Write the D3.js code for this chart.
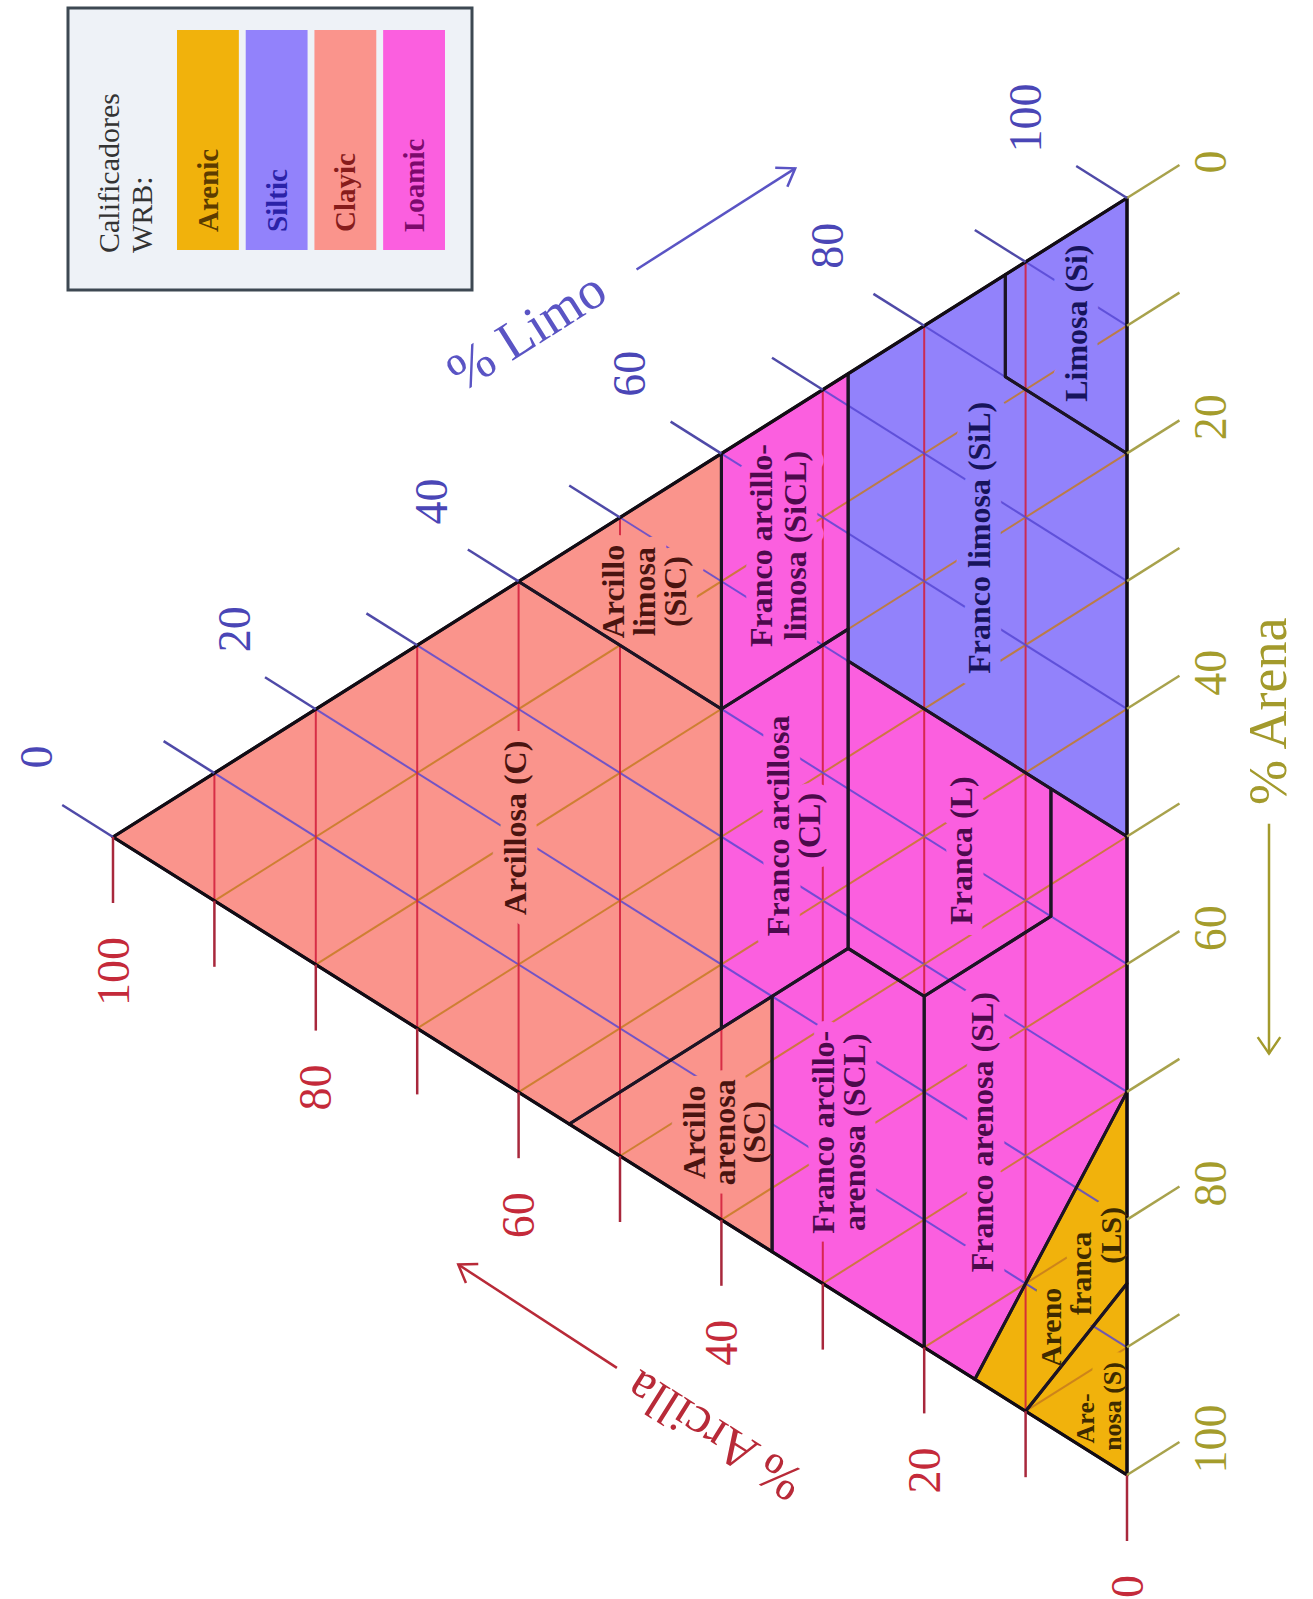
<!DOCTYPE html>
<html><head><meta charset="utf-8">
<script src="https://cdn.jsdelivr.net/npm/d3@7"></script>
<style>body{margin:0;background:#fff}</style>
</head><body><svg id="chart" width="1313" height="1599"></svg>
<script>
// ---------------- data ----------------
const tickValues = [0,10,20,30,40,50,60,70,80,90,100];
const labelValues = [0,20,40,60,80,100];
const qualifiers = ["Arenic","Siltic","Clayic","Loamic"];
const classNames = ["C","SiC","SC","CL","SiCL","SCL","L","SiL","Si","SL","LS","S"];
const classLabels = [
  ["Arcillosa (C)"],
  ["Arcillo","limosa","(SiC)"],
  ["Arcillo","arenosa","(SC)"],
  ["Franco arcillosa","(CL)"],
  ["Franco arcillo-","limosa (SiCL)"],
  ["Franco arcillo-","arenosa (SCL)"],
  ["Franca (L)"],
  ["Franco limosa (SiL)"],
  ["Limosa (Si)"],
  ["Franco arenosa (SL)"],
  ["Areno","franca","(LS)"],
  ["Are-","nosa (S)"]
];
const classQualifier = ["Clayic","Clayic","Clayic","Loamic","Loamic","Loamic","Loamic","Siltic","Siltic","Loamic","Arenic","Arenic"];
// vertices as [sand %, clay %]
const classVertices = [
  [[0,100],[45,55],[45,40],[20,40],[0,60]],
  [[0,60],[20,40],[0,40]],
  [[45,55],[65,35],[45,35],[45,40]],
  [[45,40],[20,40],[20,27.5],[45,27.5]],
  [[20,40],[0,40],[0,27.5],[20,27.5]],
  [[65,35],[80,20],[52.5,20],[45,27.5],[45,35]],
  [[45,27.5],[52.5,20],[52.5,7.5],[42.5,7.5],[22.5,27.5]],
  [[22.5,27.5],[0,27.5],[0,12],[8,12],[20,0],[50,0],[42.5,7.5]],
  [[0,12],[0,0],[20,0],[8,12]],
  [[80,20],[52.5,20],[52.5,7.5],[42.5,7.5],[50,0],[70,0],[85,15]],
  [[85,15],[70,0],[85,0],[90,10]],
  [[90,10],[85,0],[100,0]]
];

// ---------------- layout / style ----------------
const labelAnchor = [[19.1,60.4],[7.0,47.6],[53.3,39.7],[32.7,32.9],[10.0,34.4],[58.9,28.5],
                     [42.9,16.4],[19.3,14.6],[7.3,5.0],[66.0,14.3],[82.3,4.6],[93.7,2.8]];
const labelFont = [32,32,32,32,32,32,32,32,32,32,30,26];
const labelLineH = [31,31,30,31,34,31,31,31,31,31,30,27];
const labelShift = {LS:[-49,5,43], S:[-6,6]};
const fillColor = {Arenic:"#f1b20c", Siltic:"#9282fb", Clayic:"#fa948c", Loamic:"#fb5fdf"};
const textColor = {Arenic:"#3e2a00", Siltic:"#17145c", Clayic:"#4a1410", Loamic:"#4c0a4c"};
const legendText = {Arenic:"#5c3c00", Siltic:"#2b22a8", Clayic:"#861c1c", Loamic:"#7c0a6c"};
const serif = "'Liberation Serif','Times New Roman',serif";

const svg = d3.select("#chart");
const xOfClay = d3.scaleLinear().domain([0,100]).range([1127,113]);
const yOfSand = d3.scaleLinear().domain([0,100]).range([198,1475]);
const yOfClay = d3.scaleLinear().domain([0,100]).range([0,639]);
const proj = (s,c) => [xOfClay(c), yOfSand(s)+yOfClay(c)];

const A = proj(0,100), B = proj(0,0), C = proj(100,0);
const unit = (p,q) => { const dx=q[0]-p[0], dy=q[1]-p[1], l=Math.hypot(dx,dy); return [dx/l,dy/l]; };
const uAB = unit(A,B), uAC = unit(A,C);
const line = d3.line();
const polyPath = pts => line(pts.map(p=>proj(p[0],p[1]))) + "Z";

const defs = svg.append("defs");
const gFill = svg.append("g");
const gGrid = svg.append("g");
const gHalo = svg.append("g");
const gBound = svg.append("g");
const gTicks = svg.append("g");
const gText = svg.append("g");

// fills
gFill.selectAll("path").data(classVertices).join("path")
  .attr("d", polyPath)
  .attr("fill", (d,i)=>fillColor[classQualifier[i]]);

// grid inside
const seg = (g, p, q, color, w, op) => g.append("line")
  .attr("x1",p[0]).attr("y1",p[1]).attr("x2",q[0]).attr("y2",q[1])
  .attr("stroke",color).attr("stroke-width",w).attr("stroke-opacity",op);

tickValues.forEach(v => {
  seg(gGrid, proj(0,v), proj(100-v,v), "#d21f3c", 2, 0.88);        // clay
  seg(gGrid, proj(0,100-v), proj(100-v,0), "#5446d2", 2, 0.82);    // silt
  seg(gGrid, proj(v,100-v), proj(v,0), "#c47a1e", 2, 0.82);        // sand
});

// halos hiding grid lines near the labels
classVertices.forEach((pts,i)=>{
  defs.append("clipPath").attr("id","clip"+i).append("path").attr("d", polyPath(pts));
});

function drawLabel(layer, i, halo) {
  const lines = classLabels[i];
  const [x,y] = proj(labelAnchor[i][0], labelAnchor[i][1]);
  const fs = labelFont[i], lh = labelLineH[i];
  const shifts = labelShift[classNames[i]] || lines.map(()=>0);
  const g = layer.append("g").attr("transform",`translate(${x},${y}) rotate(-90)`);
  lines.forEach((t,k)=>{
    const tx = g.append("text").text(t)
      .attr("x", shifts[k]).attr("y", (k-(lines.length-1)/2)*lh)
      .attr("text-anchor","middle").attr("dominant-baseline","central")
      .attr("font-family",serif).attr("font-size",fs).attr("font-weight","bold");
    if (halo) tx.attr("fill",fillColor[classQualifier[i]]).attr("stroke",fillColor[classQualifier[i]])
                .attr("stroke-width",22).attr("stroke-linejoin","round");
    else tx.attr("fill",textColor[classQualifier[i]]);
  });
}
classVertices.forEach((pts,i)=>{
  drawLabel(gHalo.append("g").attr("clip-path",`url(#clip${i})`), i, true);
});

// boundaries
gBound.selectAll("path").data(classVertices).join("path")
  .attr("d", polyPath).attr("fill","none")
  .attr("stroke","#1c1424").attr("stroke-width",3).attr("stroke-linejoin","round");
gBound.append("path").attr("d", line([A,B,C])+"Z").attr("fill","none")
  .attr("stroke","#120c14").attr("stroke-width",3.2).attr("stroke-linejoin","round");

// outer ticks
const clayTick = 66, siltTick = 60, sandTick = 62;
tickValues.forEach(v=>{
  const pc = proj(100-v, v);
  seg(gTicks, pc, [pc[0], pc[1]+clayTick], "#a8283c", 2.5, 1);
  const ps = proj(0,100-v);
  seg(gTicks, ps, [ps[0]-uAC[0]*siltTick, ps[1]-uAC[1]*siltTick], "#4f4aa8", 2.5, 1);
  const pa = proj(v,0);
  seg(gTicks, pa, [pa[0]+uAB[0]*sandTick, pa[1]+uAB[1]*sandTick], "#a8a24c", 2.5, 1);
});

// tick labels
const tickFont = 46;
labelValues.forEach(v=>{
  const pc = proj(100-v, v);
  gTicks.append("text").text(v)
    .attr("transform",`translate(${pc[0]},${pc[1]+clayTick+34}) rotate(-90)`)
    .attr("text-anchor","end").attr("dominant-baseline","central")
    .attr("font-family",serif).attr("font-size",tickFont).attr("fill","#c42a3a");
  const ps = proj(0,100-v);
  const se = [ps[0]-uAC[0]*siltTick, ps[1]-uAC[1]*siltTick];
  gTicks.append("text").text(v)
    .attr("transform",`translate(${se[0]-26-0.25*v},${se[1]-48}) rotate(-90)`)
    .attr("text-anchor","middle").attr("dominant-baseline","central")
    .attr("font-family",serif).attr("font-size",tickFont).attr("fill","#4a46b6");
  const pa = proj(v,0);
  const ae = [pa[0]+uAB[0]*sandTick, pa[1]+uAB[1]*sandTick];
  gTicks.append("text").text(v)
    .attr("transform",`translate(${ae[0]+31},${ae[1]-3}) rotate(-90)`)
    .attr("text-anchor","middle").attr("dominant-baseline","central")
    .attr("font-family",serif).attr("font-size",tickFont).attr("fill","#a49c2c");
});

// region labels
classVertices.forEach((pts,i)=> drawLabel(gText, i, false));

// axis titles
const edgePt = (P,Q,t,nx,ny,d) => [P[0]+(Q[0]-P[0])*t+nx*d, P[1]+(Q[1]-P[1])*t+ny*d];
const outAB = [uAB[1], -uAB[0]];   // up-left normal
const outAC = [-uAC[1], uAC[0]];   // down-left normal
function arrow(p, q, color) {
  const g = svg.append("g").attr("stroke",color).attr("stroke-width",2.5).attr("fill","none");
  g.append("line").attr("x1",p[0]).attr("y1",p[1]).attr("x2",q[0]).attr("y2",q[1]);
  const a = Math.atan2(q[1]-p[1], q[0]-p[0]), L = 20;
  const h1 = [q[0]-L*Math.cos(a-0.6), q[1]-L*Math.sin(a-0.6)];
  const h2 = [q[0]-L*Math.cos(a+0.6), q[1]-L*Math.sin(a+0.6)];
  g.append("path").attr("d", line([h1,q,h2]));
}
const angAB = Math.atan2(uAB[1],uAB[0])*180/Math.PI;
const angCA = Math.atan2(-uAC[1],-uAC[0])*180/Math.PI;
const limoPos = edgePt(A,B,0.517,outAB[0],outAB[1],208);
svg.append("text").text("% Limo")
  .attr("transform",`translate(${limoPos[0]},${limoPos[1]}) rotate(${angAB})`)
  .attr("text-anchor","middle").attr("dominant-baseline","central")
  .attr("font-family",serif).attr("font-size",54).attr("fill","#5a54c4");
arrow(edgePt(A,B,0.622,outAB[0],outAB[1],201), edgePt(A,B,0.779,outAB[0],outAB[1],202), "#5a54c4");

const arcPos = edgePt(A,C,0.691,outAC[0],outAC[1],187);
svg.append("text").text("% Arcilla")
  .attr("transform",`translate(${arcPos[0]},${arcPos[1]}) rotate(${angCA})`)
  .attr("text-anchor","middle").attr("dominant-baseline","central")
  .attr("font-family",serif).attr("font-size",52).attr("fill","#b82a38");
arrow(edgePt(A,C,0.592,outAC[0],outAC[1],181), edgePt(A,C,0.434,outAC[0],outAC[1],178), "#b82a38");

const arePos = edgePt(B,C,0.402,1,0,141);
svg.append("text").text("% Arena")
  .attr("transform",`translate(${arePos[0]},${arePos[1]}) rotate(-90)`)
  .attr("text-anchor","middle").attr("dominant-baseline","central")
  .attr("font-family",serif).attr("font-size",54).attr("fill","#a39a2c");
arrow(edgePt(B,C,0.49,1,0,142), edgePt(B,C,0.67,1,0,142), "#a39a2c");

// legend
const lg = svg.append("g");
lg.append("rect").attr("x",68).attr("y",8).attr("width",404).attr("height",282)
  .attr("fill","#eef2f7").attr("stroke","#3d4852").attr("stroke-width",3);
const lx = d3.scaleBand().domain(qualifiers).range([177,445]).paddingInner(0.1);
lg.selectAll("rect.sw").data(qualifiers).join("rect").attr("class","sw")
  .attr("x",d=>lx(d)).attr("y",30).attr("width",lx.bandwidth()).attr("height",220)
  .attr("fill",d=>fillColor[d]);
lg.selectAll("text.sw").data(qualifiers).join("text").attr("class","sw").text(d=>d)
  .attr("transform",d=>`translate(${lx(d)+lx.bandwidth()/2},232) rotate(-90)`)
  .attr("text-anchor","start").attr("dominant-baseline","central")
  .attr("font-family",serif).attr("font-size",29).attr("font-weight","bold")
  .attr("fill",d=>legendText[d]);
["Calificadores","WRB:"].forEach((t,k)=>{
  lg.append("text").text(t)
    .attr("transform",`translate(${108+33*k},253) rotate(-90)`)
    .attr("text-anchor","start").attr("dominant-baseline","central")
    .attr("font-family",serif).attr("font-size",30).attr("fill","#333");
});
</script></body></html>
